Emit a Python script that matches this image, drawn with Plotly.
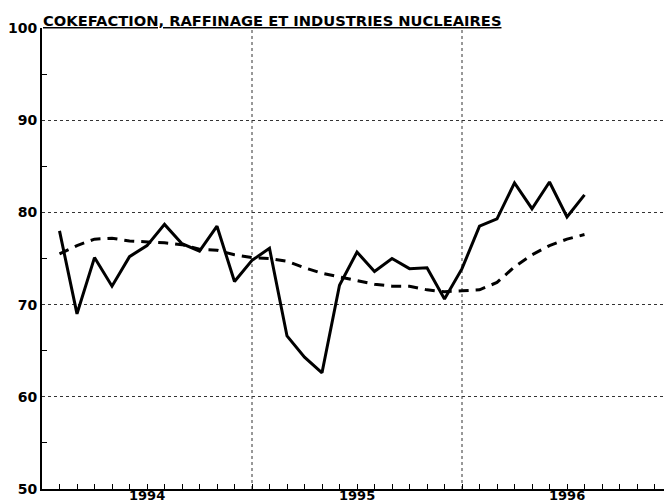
import plotly.graph_objects as go

# Monthly series, Jan 1994 .. Jul 1996 (index 1 = end of Jan 1994)
months = list(range(1, 32))
indice = [78.0, 69.0, 75.1, 72.0, 75.2, 76.4, 78.7, 76.6, 75.8, 78.5, 72.5, 74.8,
          76.1, 66.6, 64.3, 62.6, 72.1, 75.7, 73.6, 75.0, 73.9, 74.0, 70.6, 73.9,
          78.5, 79.3, 83.2, 80.4, 83.3, 79.5, 81.9]
tendance = [75.5, 76.4, 77.1, 77.2, 76.9, 76.8, 76.7, 76.5, 76.0, 75.9, 75.4, 75.1,
            75.0, 74.7, 74.0, 73.4, 73.0, 72.6, 72.2, 72.0, 72.0, 71.6, 71.4, 71.5,
            71.6, 72.4, 74.1, 75.4, 76.4, 77.1, 77.6]
year_labels = ["1994", "1995", "1996"]
year_centers = [6, 18, 30]
year_bounds = [12, 24]
title = "COKEFACTION, RAFFINAGE ET INDUSTRIES NUCLEAIRES"

FONT = "DejaVu Sans, Liberation Sans, Arial"

fig = go.Figure()
fig.add_trace(go.Scatter(x=months, y=indice, mode="lines",
                         line=dict(color="black", width=3), showlegend=False))
fig.add_trace(go.Scatter(x=months, y=tendance, mode="lines",
                         line=dict(color="black", width=3, dash="10px,7px"),
                         showlegend=False))

for b in year_bounds:
    fig.add_shape(type="line", xref="x", yref="paper", x0=b, x1=b, y0=0, y1=1,
                  line=dict(color="#333", width=1, dash="dot"), layer="below")

for xc, lab in zip(year_centers, year_labels):
    fig.add_annotation(text="<b>" + lab + "</b>", xref="x", yref="paper",
                       x=xc, y=0, xanchor="center", yanchor="top", showarrow=False,
                       font=dict(family=FONT, size=13, color="black"),
                       yshift=3)

fig.add_annotation(text="<u><b>" + title + "</b></u>", xref="paper", yref="paper",
                   x=0, y=1, xanchor="left", yanchor="bottom", showarrow=False,
                   font=dict(family=FONT, size=14.7, color="black"),
                   xshift=-1, yshift=-3)

fig.update_layout(
    width=664, height=493,
    margin=dict(l=34, r=0, t=20, b=12),
    paper_bgcolor="white", plot_bgcolor="white",
    font=dict(family=FONT, color="black"),
    xaxis=dict(range=[0, 36], tickmode="array", tickvals=year_centers,
               showticklabels=False, ticks="",
               showgrid=False, zeroline=False,
               showline=True, linecolor="black", linewidth=2, automargin=False,
               minor=dict(tickmode="array", tickvals=list(range(1, 36)),
                          ticks="inside", ticklen=5, tickcolor="black", showgrid=False)),
    yaxis=dict(range=[50, 100], tickmode="array", tickvals=[50, 60, 70, 80, 90, 100],
               ticktext=["<b>%d</b>" % v for v in [50, 60, 70, 80, 90, 100]],
               showgrid=True, gridcolor="#333", gridwidth=1, griddash="dot",
               zeroline=False, showline=True, linecolor="black", linewidth=2,
               ticks="", tickfont=dict(size=14, color="black"), automargin=False,
               minor=dict(tickmode="array", tickvals=[55, 65, 75, 85, 95], ticks="inside",
                          ticklen=5, tickcolor="black", showgrid=False)),
)

fig.write_html("out.html")
